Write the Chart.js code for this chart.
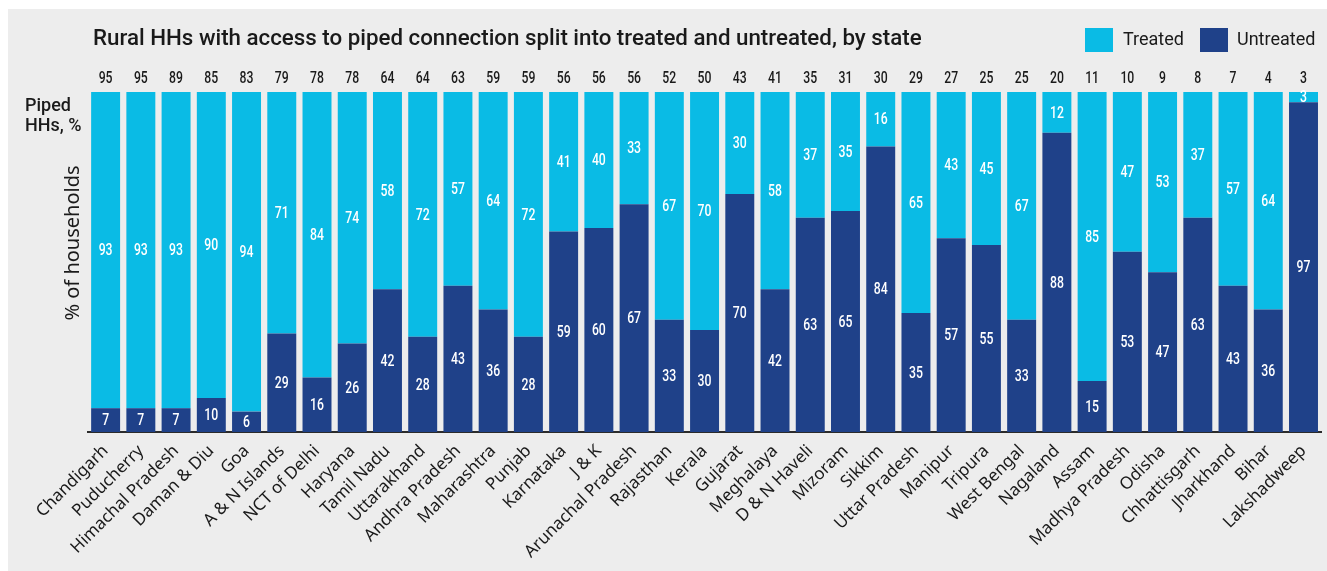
<!DOCTYPE html>
<html>
<head>
<meta charset="utf-8">
<script src="https://cdn.jsdelivr.net/npm/chart.js@4.4.1/dist/chart.umd.min.js"></script>
<style>
  html, body { margin: 0; padding: 0; background: #ffffff; }
  #panel { position: absolute; left: 8px; top: 9px; width: 1319px; height: 562px; background: #ededed; }
  canvas { display: block; }
</style>
</head>
<body>
<div id="panel"><canvas id="c" width="1319" height="562"></canvas></div>
<script>
const states = ["Chandigarh","Puducherry","Himachal Pradesh","Daman & Diu","Goa","A & N Islands","NCT of Delhi","Haryana","Tamil Nadu","Uttarakhand","Andhra Pradesh","Maharashtra","Punjab","Karnataka","J & K","Arunachal Pradesh","Rajasthan","Kerala","Gujarat","Meghalaya","D & N Haveli","Mizoram","Sikkim","Uttar Pradesh","Manipur","Tripura","West Bengal","Nagaland","Assam","Madhya Pradesh","Odisha","Chhattisgarh","Jharkhand","Bihar","Lakshadweep"];
const pipedPct = [95,95,89,85,83,79,78,78,64,64,63,59,59,56,56,56,52,50,43,41,35,31,30,29,27,25,25,20,11,10,9,8,7,4,3];
const treated = [93,93,93,90,94,71,84,74,58,72,57,64,72,41,40,33,67,70,30,58,37,35,16,65,43,45,67,12,85,47,53,37,57,64,3];
const untreated = [7,7,7,10,6,29,16,26,42,28,43,36,28,59,60,67,33,30,70,42,63,65,84,35,57,55,33,88,15,53,47,63,43,36,97];
const titleText = "Rural HHs with access to piped connection split into treated and untreated, by state";
const yTitle = "% of households";
const pipedLabel = ["Piped", "HHs, %"];

const LIGHT = "#0abbe5";
const DARK = "#1f4189";
const TEXT = "#1a1a1a";
const NUMFONT = 'Roboto, sans-serif';
const SQUEEZE = 0.72;

function condensedText(ctx, txt, x, y) {
  ctx.save();
  ctx.translate(x, y);
  ctx.scale(SQUEEZE, 1);
  ctx.fillText(txt, 0, 0);
  ctx.restore();
}

const overlay = {
  id: 'overlay',
  afterDatasetsDraw(chart) {
    const ctx = chart.ctx;
    ctx.save();
    // in-bar labels
    ctx.fillStyle = "#ffffff";
    ctx.textAlign = "center";
    ctx.textBaseline = "middle";
    ctx.font = '500 17px ' + NUMFONT;
    chart.data.datasets.forEach((ds, di) => {
      const meta = chart.getDatasetMeta(di);
      meta.data.forEach((el, i) => {
        const cy = (el.y + el.base) / 2;
        condensedText(ctx, String(ds.data[i]), el.x, cy + 1);
      });
    });
    // piped % on top
    ctx.fillStyle = TEXT;
    ctx.textBaseline = "alphabetic";
    ctx.font = '500 17px ' + NUMFONT;
    const meta0 = chart.getDatasetMeta(0);
    meta0.data.forEach((el, i) => {
      condensedText(ctx, String(pipedPct[i]), el.x, 74);
    });
    // title
    ctx.textAlign = "left";
    ctx.font = '500 20px Roboto, sans-serif';
    const w = ctx.measureText(titleText).width;
    const fs = 20 * 829 / w;
    ctx.font = '500 ' + fs.toFixed(2) + 'px Roboto, sans-serif';
    ctx.fillText(titleText, 85, 36);
    // legend
    const items = [[chart.data.datasets[1].label, LIGHT, 1077, 1115], [chart.data.datasets[0].label, DARK, 1192, 1229]];
    ctx.font = '18px Roboto, sans-serif';
    items.forEach(([lab, col, bx, tx]) => {
      ctx.fillStyle = col;
      ctx.fillRect(bx, 19, 28, 24);
      ctx.fillStyle = TEXT;
      ctx.fillText(lab, tx, 36);
    });
    // Piped HHs, %
    ctx.font = '500 18px Roboto, sans-serif';
    ctx.fillText(pipedLabel[0], 17, 102);
    ctx.fillText(pipedLabel[1], 17, 122);
    // rotated y title
    ctx.translate(65, 234);
    ctx.rotate(-Math.PI / 2);
    ctx.textAlign = "center";
    ctx.textBaseline = "middle";
    ctx.font = '20px "Noto Sans", sans-serif';
    ctx.fillText(yTitle, 0, 0);
    ctx.restore();
  }
};

new Chart(document.getElementById('c'), {
  type: 'bar',
  data: {
    labels: states,
    datasets: [
      { label: 'Untreated', data: untreated, backgroundColor: DARK, borderWidth: 0 },
      { label: 'Treated', data: treated, backgroundColor: LIGHT, borderWidth: 0 }
    ]
  },
  options: {
    responsive: false,
    animation: false,
    devicePixelRatio: 1,
    layout: { padding: { left: 80, top: 83, right: 5, bottom: 0 } },
    plugins: { legend: { display: false }, tooltip: { enabled: false }, title: { display: false } },
    datasets: { bar: { categoryPercentage: 1.0, barPercentage: 0.822 } },
    scales: {
      x: {
        stacked: true,
        grid: { display: false, drawTicks: false },
        border: { display: true, color: '#2b2b2b', width: 2 },
        ticks: { color: TEXT, font: { family: '"Noto Sans", sans-serif', size: 17 }, minRotation: 45, maxRotation: 45, padding: 9, autoSkip: false },
        afterFit(scale) { scale.height = 139; }
      },
      y: {
        stacked: true, min: 0, max: 100, display: false
      }
    }
  },
  plugins: [overlay]
});
</script>
</body>
</html>
